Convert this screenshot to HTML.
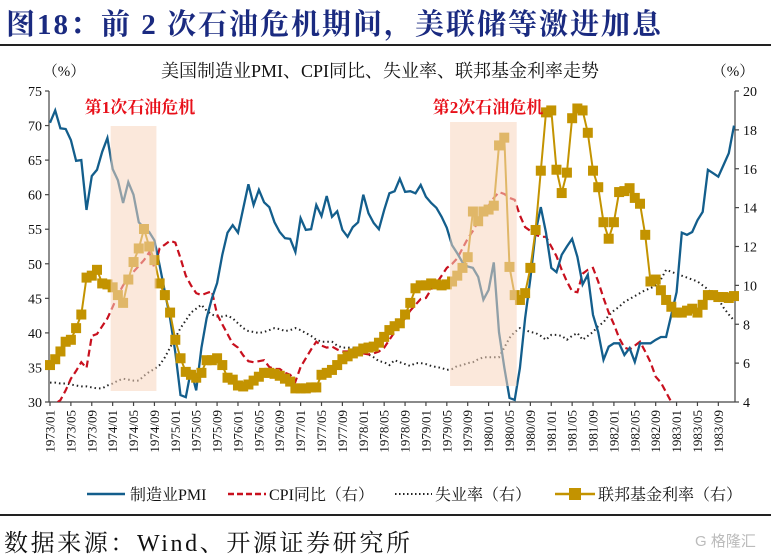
<!DOCTYPE html>
<html><head><meta charset="utf-8">
<style>
body{margin:0;background:#fff;width:771px;height:554px;overflow:hidden;font-family:"Liberation Serif","Noto Serif CJK SC",serif;}
#title{position:absolute;left:6px;top:2px;font-size:29px;letter-spacing:2px;font-weight:bold;color:#1a2a80;font-family:"Liberation Serif","Noto Serif CJK SC",serif;white-space:nowrap;}
#rule1{position:absolute;left:0;top:44px;width:771px;height:2px;background:#222;}
#rule2{position:absolute;left:0;top:514px;width:771px;height:2px;background:#222;}
#source{position:absolute;left:4px;top:523px;font-size:24px;letter-spacing:2.6px;color:#111;white-space:nowrap;}
#wm{position:absolute;left:695px;top:530px;font-size:15px;color:#bbb;font-family:"Liberation Sans","Noto Sans CJK SC",sans-serif;}
svg{position:absolute;left:0;top:0;}
</style></head><body>
<div id="title">图18：前 2 次石油危机期间，美联储等激进加息</div>
<div id="rule1"></div>
<svg id="chart" width="771" height="554"></svg>
<div id="rule2"></div>
<div id="source">数据来源：Wind、开源证券研究所</div>
<div id="wm">G 格隆汇</div>
<script>
const pmi=[70.4,72.2,69.6,69.5,67.9,64.9,65,57.8,62.7,63.6,66.2,68.2,63.7,62.1,58.8,61.8,60,56,55.2,54.6,53.4,49.8,45.9,42.1,37.2,31,30.7,34.6,31.7,37.8,42.1,45,47.2,51.3,54.5,55.6,54.5,58,61.5,58.5,60.7,58.9,58.2,56,54.6,53.7,53.6,51.7,56.6,54.9,55,58.5,56.9,59.8,56.8,57.6,54.9,53.9,55.3,56,60,57.3,55.9,55,57.8,60.2,60.5,62.3,60.4,60.5,60.2,61.4,59.7,58.8,58.1,56.8,55.2,52.7,51.5,50.2,49.6,49.4,48.1,44.8,46.2,50.2,40.1,35,30.6,30.3,34.9,42.1,47.9,54.6,58.2,54.5,49.4,48.8,51.3,52.5,53.6,51,47,48.4,42.6,40.1,36.1,38,38.5,38.5,36.8,37.8,35.8,38.5,38.5,38.5,39,39.4,39.4,42.6,45.9,54.5,54.2,54.6,56.3,57.5,63.6,63.1,62.6,64.3,66,70];
const cpi=[3.6,3.9,4.1,4.6,5.2,5.6,6.05,5.75,7.4,7.5,7.9,8.3,8.9,9.5,10,10.4,10.7,11,11.3,11.7,10.9,11.9,12.1,12.3,12.2,11.4,10.5,10,9.6,9.5,9.6,9.7,8.5,8,7.5,7,6.8,6.4,6.1,6.05,6.1,6.15,5.8,5.7,5.7,5.5,5.4,5.05,5.8,6.25,6.7,7.1,6.9,6.8,6.85,6.7,6.6,6.6,6.7,6.6,6.5,6.45,6.5,6.6,6.8,7.2,7.6,8,8.3,8.7,9,9.3,9.35,9.8,10.1,10.5,10.9,11.1,11.4,11.9,12.4,12.8,13.3,13.7,14.1,14.5,14.8,14.7,14.5,14.4,13.6,13,12.8,12.6,12.5,12.5,12,11.5,10.8,10.2,9.7,9.65,10.6,10.8,10.9,10.2,9.35,8.6,8,7.3,6.8,6.7,6.9,7.1,6.6,6.05,5.3,5,4.5,4,3.6,3.5,3.6,3.9,3.5,2.6,2.4,2.6,2.9,3,3.3,3.8];
const unemp=[5,5,4.95,4.95,4.9,4.85,4.8,4.8,4.75,4.7,4.7,4.85,4.95,5.1,5.2,5.15,5.1,5.1,5.35,5.55,5.7,5.9,6.3,6.8,7.3,7.8,8.2,8.6,8.8,9,8.7,8.5,8.4,8.4,8.45,8.3,8.05,7.8,7.65,7.6,7.55,7.6,7.7,7.8,7.75,7.65,7.7,7.8,7.7,7.55,7.4,7.2,7.1,7.1,7.1,6.9,6.8,6.8,6.8,6.7,6.55,6.45,6.3,6.1,6.05,5.9,6.15,6.05,5.95,5.85,6,6,5.95,5.85,5.8,5.75,5.65,5.7,5.85,5.9,6,6.05,6.2,6.3,6.3,6.3,6.3,6.8,7.3,7.6,7.8,7.7,7.6,7.55,7.4,7.2,7.45,7.45,7.4,7.2,7.4,7.55,7.2,7.4,7.6,7.9,8.1,8.45,8.7,8.9,9.15,9.3,9.45,9.6,9.75,9.85,10,10.3,10.8,10.7,10.6,10.5,10.4,10.3,10.2,10,9.8,9.5,9.3,8.85,8.5,8.2];
const fed=[5.9,6.2,6.6,7.1,7.2,7.8,8.5,10.4,10.5,10.8,10.1,10.05,9.9,9.5,9.1,10.3,11.2,11.9,12.9,12,11.3,10.1,9.5,8.6,7.2,6.25,5.55,5.4,5.25,5.5,6.15,6.15,6.25,5.9,5.25,5.15,4.85,4.8,4.9,5.1,5.3,5.5,5.5,5.45,5.35,5.2,5.05,4.7,4.7,4.7,4.75,4.75,5.4,5.5,5.65,5.9,6.2,6.35,6.5,6.6,6.75,6.8,6.85,7.05,7.35,7.7,7.9,8.05,8.5,9.1,9.85,10,10,10.1,10.05,10,10.05,10.2,10.5,10.9,11.45,13.8,13.3,13.8,13.9,14.1,17.2,17.6,10.95,9.5,9.25,9.6,10.9,12.85,15.9,18.9,19,15.95,14.75,15.8,18.6,19.1,19,17.85,15.9,15.05,13.25,12.4,13.25,14.8,14.85,15,14.5,14.2,12.6,10.2,10.3,9.75,9.25,8.9,8.6,8.6,8.7,8.8,8.6,9,9.5,9.5,9.4,9.4,9.35,9.45];
const leftTicks=[30,35,40,45,50,55,60,65,70,75];
const rightTicks=[4,6,8,10,12,14,16,18,20];
const startYear=1973, startMonth=1, nMonths=132, tickEvery=4;
const crisis=[[12,20],[77,89]];

const NS="http://www.w3.org/2000/svg";
const svg=document.getElementById('chart');
const X0=50,X1=734,YT=91,YB=402;
const xS=i=>X0+i*(X1-X0)/(nMonths-1);
const yL=v=>YB-(v-30)/(75-30)*(YB-YT);
const yR=v=>YB-(v-4)/(20-4)*(YB-YT);
function mk(tag,attrs,parent){const e=document.createElementNS(NS,tag);for(const k in attrs)e.setAttribute(k,attrs[k]);(parent||svg).appendChild(e);return e;}
function txt(s,attrs,parent){const e=mk('text',attrs,parent);e.textContent=s;return e;}
const F='"Liberation Serif","Noto Serif CJK SC",serif';

const defs=mk('defs',{});
const cp=mk('clipPath',{id:'plotclip'},defs);
mk('rect',{x:44,y:YT-2,width:700,height:YB-YT+2},cp);

const sub=txt('美国制造业PMI、CPI同比、失业率、联邦基金利率走势',{x:380,y:77,'font-size':18,'text-anchor':'middle','font-family':F,fill:'#111'});


const lu=txt('（%）',{x:64,y:76,'font-size':15,'text-anchor':'middle','font-family':F,fill:'#111'});


const ru=txt('（%）',{x:733,y:76,'font-size':15,'text-anchor':'middle','font-family':F,fill:'#111'});



const ax=mk('g',{stroke:'#444','stroke-width':1.2});


mk('line',{x1:49,y1:YT,x2:49,y2:YB},ax);
mk('line',{x1:735,y1:YT,x2:735,y2:YB},ax);
mk('line',{x1:49,y1:YB,x2:735,y2:YB},ax);
leftTicks.forEach(v=>{
  mk('line',{x1:45,y1:yL(v),x2:49,y2:yL(v)},ax);
  const t=txt(String(v),{x:42,y:yL(v)+5,'font-size':14,'text-anchor':'end','font-family':F,fill:'#111',stroke:'none'});
  
  
});
rightTicks.forEach(v=>{
  mk('line',{x1:735,y1:yR(v),x2:739,y2:yR(v)},ax);
  const t=txt(String(v),{x:743,y:yR(v)+5,'font-size':14,'text-anchor':'start','font-family':F,fill:'#111',stroke:'none'});
  
  
});
for(let i=0;i<nMonths;i+=tickEvery){
  const x=xS(i);
  mk('line',{x1:x,y1:YB,x2:x,y2:YB+4},ax);
  const m=startMonth+i, yr=startYear+Math.floor((m-1)/12), mo=((m-1)%12)+1;
  const lab=yr+'/'+String(mo).padStart(2,'0');
  const t=txt(lab,{x:0,y:0,'font-size':13,'text-anchor':'end','font-family':F,fill:'#111',stroke:'none',transform:`translate(${x+4.5},${YB+8}) rotate(-90)`});
  
  
}

function path(arr,yf){return arr.map((v,i)=>(i?'L':'M')+xS(i).toFixed(1)+','+yf(v).toFixed(1)).join('');}
const g=mk('g',{'clip-path':'url(#plotclip)'});
const pU=mk('path',{d:path(unemp,yR),fill:'none',stroke:'#222','stroke-width':2,'stroke-dasharray':'1.5,3'},g);


const pC=mk('path',{d:path(cpi,yR),fill:'none',stroke:'#c8101e','stroke-width':2.2,'stroke-dasharray':'7,4'},g);


const pP=mk('path',{d:path(pmi,yL),fill:'none',stroke:'#135e8c','stroke-width':2.3},g);


const pF=mk('path',{d:path(fed,yR),fill:'none',stroke:'#c39300','stroke-width':2},g);


fed.forEach((v,i)=>{
  const r=mk('rect',{x:xS(i)-5,y:yR(v)-5,width:10,height:10,fill:'#c39300'},g);
  
  
});
const shadeTop=[126,122], shadeBot=[391,386];
crisis.forEach((c,k)=>{
  const r=mk('rect',{x:xS(c[0])-2,y:shadeTop[k],width:xS(c[1])-xS(c[0])+4,height:shadeBot[k]-shadeTop[k],fill:'rgba(248,214,190,0.55)'});
  
  
});
const c1=txt('第1次石油危机',{x:140,y:113,'font-size':17,'font-weight':'bold','text-anchor':'middle','font-family':F,fill:'#e8101a'});


const c2=txt('第2次石油危机',{x:488,y:113,'font-size':17,'font-weight':'bold','text-anchor':'middle','font-family':F,fill:'#e8101a'});



const lg=mk('g',{});


const LY=494;
const e1=mk('g',{},lg);


mk('line',{x1:87,y1:LY,x2:125,y2:LY,stroke:'#135e8c','stroke-width':2.5},e1);
txt('制造业PMI',{x:130,y:LY+6,'font-size':16,'font-family':F,fill:'#111'},e1);
const e2=mk('g',{},lg);


mk('line',{x1:228,y1:LY,x2:266,y2:LY,stroke:'#c8101e','stroke-width':2.5,'stroke-dasharray':'6,3'},e2);
txt('CPI同比（右）',{x:269,y:LY+6,'font-size':16,'font-family':F,fill:'#111'},e2);
const e3=mk('g',{},lg);


mk('line',{x1:395,y1:LY,x2:432,y2:LY,stroke:'#222','stroke-width':2,'stroke-dasharray':'1.5,2.5'},e3);
txt('失业率（右）',{x:435,y:LY+6,'font-size':16,'font-family':F,fill:'#111'},e3);
const e4=mk('g',{},lg);


mk('line',{x1:555,y1:LY,x2:595,y2:LY,stroke:'#c39300','stroke-width':2.5},e4);
mk('rect',{x:569,y:LY-6,width:12,height:12,fill:'#c39300'},e4);
txt('联邦基金利率（右）',{x:598,y:LY+6,'font-size':16,'font-family':F,fill:'#111'},e4);
</script>
</body></html>
